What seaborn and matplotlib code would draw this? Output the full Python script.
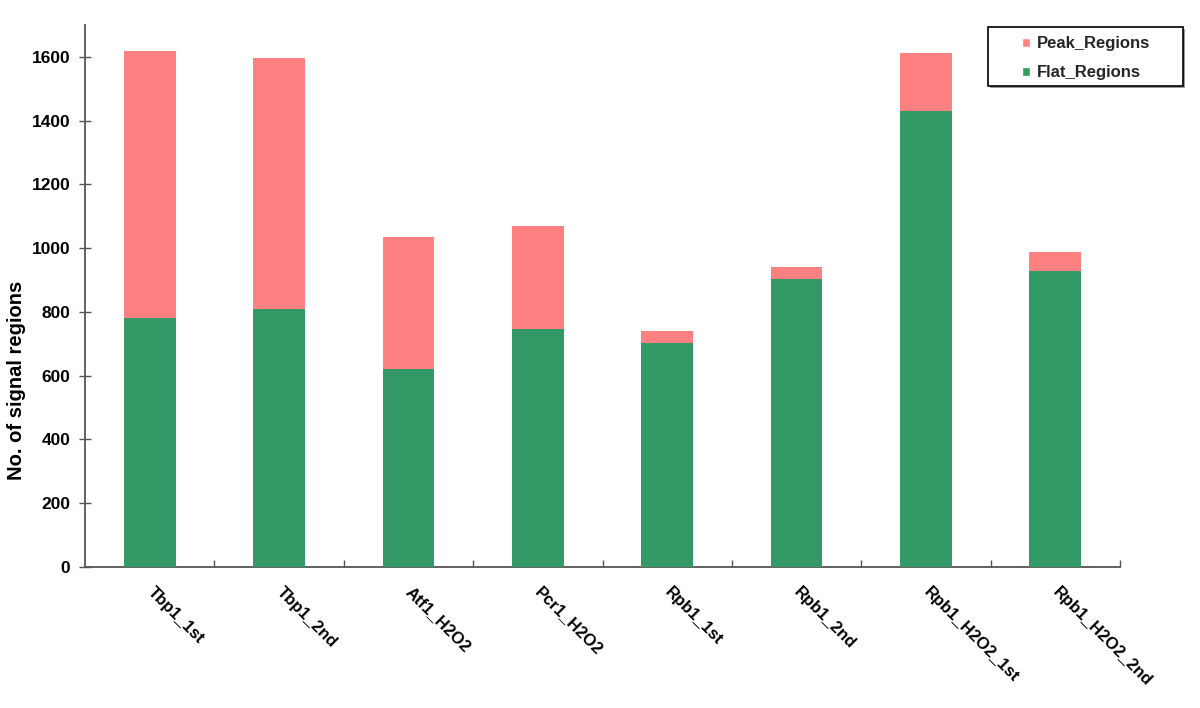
import matplotlib
matplotlib.use("Agg")
import matplotlib.pyplot as plt
from matplotlib.patches import Patch, Rectangle
import seaborn as sns
import pandas as pd

# values
samples = ['Tbp1_1st', 'Tbp1_2nd', 'Atf1_H2O2', 'Pcr1_H2O2',
           'Rpb1_1st', 'Rpb1_2nd', 'Rpb1_H2O2_1st', 'Rpb1_H2O2_2nd']
flat_regions = [780, 808, 622, 748, 704, 902, 1430, 927]
peak_regions = [839, 789, 412, 321, 35, 38, 183, 60]

flat_color = '#339966'
peak_color = '#FF8080'

df = pd.DataFrame({'sample': samples, 'flat': flat_regions, 'peak': peak_regions})
df['total'] = df['flat'] + df['peak']

sns.set_style("white")
plt.rcParams['font.family'] = ['Liberation Sans', 'DejaVu Sans']
plt.rcParams['font.weight'] = 'bold'

W, H = 1200, 708
fig = plt.figure(figsize=(W / 100, H / 100), dpi=100)
ax = fig.add_axes([85 / W, 1 - 567 / H, (1120 - 85) / W, (567 - 25) / H])

# stacked bars: total (peak colour) behind, flat in front
sns.barplot(data=df, x='sample', y='total', color=peak_color, width=0.4,
            saturation=1, linewidth=0, ax=ax, zorder=2)
sns.barplot(data=df, x='sample', y='flat', color=flat_color, width=0.4,
            saturation=1, linewidth=0, ax=ax, zorder=3)

ax.set_xlim(-0.5, len(samples) - 0.5)
ax.set_ylim(0, 1700)
ax.set_yticks(range(0, 1601, 200))
ax.set_ylabel('No. of signal regions', fontsize=14.5, fontweight='bold', color='black')
ax.yaxis.set_label_coords(-0.057, 0.345)
ax.set_xlabel('')

for side in ['top', 'right']:
    ax.spines[side].set_visible(False)
for side in ['left', 'bottom']:
    ax.spines[side].set_color('#555555')
    ax.spines[side].set_linewidth(1.3)

ax.tick_params(axis='y', left=True, direction='inout', length=9, width=1, colors='#555555',
               labelcolor='black', labelsize=12.5, pad=6)
# x ticks sit between categories, pointing up
ax.set_xticks([i + 0.5 for i in range(len(samples))], minor=True)
ax.tick_params(axis='x', which='minor', bottom=True, direction='in', length=5, width=1,
               colors='#555555')
ax.tick_params(axis='x', which='major', length=0, labelsize=12, labelcolor='black', pad=16)
ax.set_xticks(range(len(samples)))
ax.set_xticklabels(samples, rotation=-45, ha='left', va='center', rotation_mode='anchor')
for lab in ax.get_yticklabels() + ax.get_xticklabels():
    lab.set_fontweight('bold')

# legend box outside the plot area, top right
fig.patches.append(Rectangle((990 / W, 1 - 88 / H), 195 / W, 59 / H, transform=fig.transFigure,
                             facecolor='#999999', edgecolor='none', zorder=1))
fig.patches.append(Rectangle((988 / W, 1 - 86 / H), 195 / W, 59 / H, transform=fig.transFigure,
                             facecolor='white', edgecolor='black', linewidth=1.2, zorder=2))
handles = [Patch(facecolor=peak_color, label='Peak_Regions'),
           Patch(facecolor=flat_color, label='Flat_Regions')]
leg = fig.legend(handles=handles, loc='upper left', bbox_to_anchor=(1009 / W, 1 - 23 / H),
                 frameon=False, handlelength=0.45, handleheight=0.45, handletextpad=0.45,
                 labelspacing=0.85, borderpad=0.3, prop={'weight': 'bold', 'size': 12})

fig.savefig('out.png', dpi=100)
